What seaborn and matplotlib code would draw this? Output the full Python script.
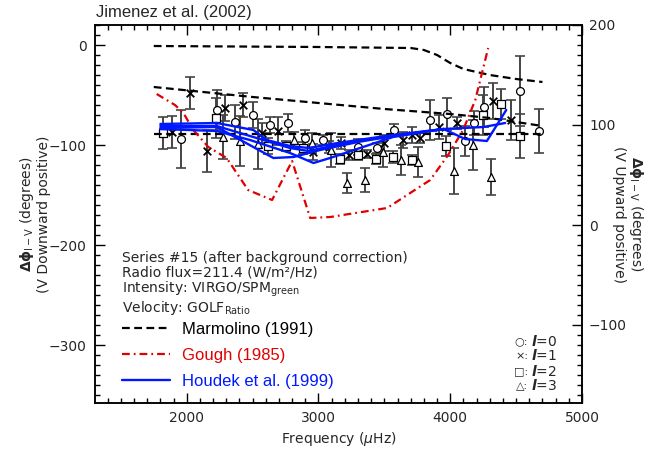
import numpy as np
import pandas as pd
import matplotlib
matplotlib.use("Agg")
import matplotlib.pyplot as plt
import seaborn as sns
from matplotlib.ticker import MultipleLocator
from matplotlib.lines import Line2D

# ---------------- data ----------------
# Marmolino (1991) model curves
marm_a_freq = [1750, 3000, 3700, 3800, 3900, 4000, 4100, 4300, 4500, 4700]
marm_a_val = [-1, -2, -3, -5, -10, -18, -24, -30, -34, -37]
marm_b_freq = [1750, 2500, 3000, 3500, 4000, 4300, 4700]
marm_b_val = [-42, -52, -58, -64, -69, -73, -81]
marm_c_freq = [1750, 4700]
marm_c_val = [-89, -89]

# Gough (1985)
gough_freq = [1772, 1911, 1975, 2050, 2164, 2303, 2466, 2648, 2800, 2937,
              3090, 3521, 3848, 3984, 4098, 4190, 4288]
gough_val = [-49, -60, -68, -85, -102, -113, -145, -155, -116, -173,
             -172, -163, -135, -110, -85, -55, -3]

# Houdek et al. (1999)
houdek_a_freq = [1800, 2228, 2506, 2607, 2784, 2925, 3100, 3300, 3566, 3949, 4253, 4417]
houdek_a_val = [-79, -78, -85, -95, -101, -103, -99, -95, -90, -84, -82, -78]
houdek_b_freq = [1800, 2228, 2480, 2784, 2925, 3100, 3300, 3566, 3949, 4113, 4278, 4425]
houdek_b_val = [-81, -81, -91, -103, -106, -101, -96, -91, -84, -94, -96, -65]
houdek_c_freq = [1800, 2228, 2658, 2810, 3012, 3300, 3566, 3949]
houdek_c_val = [-83, -82, -113, -112, -105, -97, -91, -84]
houdek_d_freq = [1800, 2228, 2480, 2784, 2962, 3088, 3316, 3566, 3949]
houdek_d_val = [-84, -86, -95, -108, -118, -113, -103, -92, -84]

# Observed phase differences (l = 0..3)
l0_freq = [1957, 2230, 2367, 2500, 2630, 2765, 2897, 3032, 3303, 3443, 3574, 3848, 3979, 4113, 4182, 4255, 4531, 4670]
l0_val = [-94, -65, -77, -70, -80, -78, -93, -95, -102, -103, -85, -75, -69, -96, -78, -62, -46, -86]
l0_err = [29, 20, 17, 13, 8, 9, 8, 5, 8, 5, 6, 20, 16, 15, 12, 20, 35, 22]

l1_freq = [1886, 2025, 2155, 2291, 2425, 2569, 2691, 2960, 3081, 3170, 3235, 3367, 3498, 3640, 3708, 3771, 3911, 4050, 4321, 4463]
l1_val = [-87, -48, -106, -63, -60, -88, -86, -107, -102, -98, -110, -109, -98, -95, -90, -93, -82, -78, -56, -75]
l1_err = [16, 16, 21, 13, 12, 10, 14, 8, 6, 6, 5, 4, 8, 8, 8, 5, 12, 6, 18, 20]

l2_freq = [1818, 2223, 2620, 2754, 2886, 3164, 3298, 3435, 3569, 3708, 3969, 4247, 4387, 4526]
l2_val = [-88, -73, -101, -101, -103, -114, -110, -114, -112, -115, -101, -70, -59, -91]
l2_err = [16, 20, 8, 5, 6, 5, 5, 5, 6, 5, 10, 20, 15, 22]

l3_freq = [2278, 2405, 2544, 2815, 2954, 3094, 3219, 3354, 3493, 3627, 3758, 4030, 4171, 4311]
l3_val = [-92, -96, -99, -95, -98, -105, -138, -135, -107, -115, -117, -126, -100, -132]
l3_err = [22, 25, 25, 8, 10, 17, 10, 12, 15, 15, 15, 23, 25, 18]

# ---------------- figure ----------------
sns.set_style("ticks")
plt.rcParams['font.family'] = ['DejaVu Sans']

W, H = 656, 449
fig = plt.figure(figsize=(W / 100, H / 100), dpi=100)
ax = fig.add_axes([95 / W, 1 - 403 / H, (582 - 95) / W, (403 - 25) / H])

def curves(pairs):
    rows = []
    for name, fr, vv in pairs:
        for f, v in zip(fr, vv):
            rows.append((name, f, v))
    return pd.DataFrame(rows, columns=["curve", "freq", "val"])

marm = curves([("a", marm_a_freq, marm_a_val), ("b", marm_b_freq, marm_b_val),
               ("c", marm_c_freq, marm_c_val)])
houd = curves([("a", houdek_a_freq, houdek_a_val), ("b", houdek_b_freq, houdek_b_val),
               ("c", houdek_c_freq, houdek_c_val), ("d", houdek_d_freq, houdek_d_val)])
goug = curves([("a", gough_freq, gough_val)])

# error bars + markers
obs = [(l0_freq, l0_val, l0_err, 'o'), (l1_freq, l1_val, l1_err, 'x'),
       (l2_freq, l2_val, l2_err, 's'), (l3_freq, l3_val, l3_err, '^')]
for fr, vv, ee, mk in obs:
    ax.errorbar(fr, vv, yerr=ee, fmt='none', ecolor='#444444', elinewidth=1.4,
                capsize=3.5, capthick=1.2, zorder=2)
for fr, vv, ee, mk in obs:
    df = pd.DataFrame({"freq": fr, "val": vv})
    if mk == 'x':
        sns.scatterplot(data=df, x="freq", y="val", marker='x', s=30, color='black',
                        linewidth=1.3, ax=ax, zorder=3, legend=False)
    else:
        sns.scatterplot(data=df, x="freq", y="val", marker=mk, s=32, facecolor='white',
                        edgecolor='black', linewidth=0.9, ax=ax, zorder=3, legend=False)

# model curves
sns.lineplot(data=marm, x="freq", y="val", units="curve", estimator=None, sort=False,
             color='black', linewidth=1.6, ax=ax, zorder=4, legend=False)
for ln in ax.lines[-3:]:
    ln.set_dashes((3.5, 2.0))
nb = len(ax.lines)
sns.lineplot(data=goug, x="freq", y="val", units="curve", estimator=None, sort=False,
             color='#e00000', linewidth=1.6, ax=ax, zorder=4, legend=False)
for ln in ax.lines[nb:]:
    ln.set_dashes((3.5, 1.8, 0.8, 1.8))
sns.lineplot(data=houd, x="freq", y="val", units="curve", estimator=None, sort=False,
             color='#0018ff', linewidth=1.7, ax=ax, zorder=5, legend=False)

ax.set_xlim(1304, 5000)
ax.set_ylim(-358, 20)
ax.set_xticks([2000, 3000, 4000, 5000])
ax.set_yticks([0, -100, -200, -300])
ax.xaxis.set_minor_locator(MultipleLocator(100))
ax.yaxis.set_minor_locator(MultipleLocator(10))
ax.tick_params(which='both', direction='in', top=True, right=False, labelsize=10,
               color='black', width=1.0)
ax.tick_params(which='major', length=7, pad=6)
ax.tick_params(which='minor', length=3.5)
for s in ax.spines.values():
    s.set_linewidth(1.1)
    s.set_color('black')
ax.set_xlabel(r"Frequency ($\mu$Hz)", fontsize=10, labelpad=3)
ax.set_ylabel(r"$\mathbf{\Delta\phi}_{\mathrm{I-V}}$ (degrees)" + "\n(V Downward positive)",
              fontsize=10, labelpad=-2, linespacing=1.1)

ax2 = ax.twinx()
ax2.set_ylim(-178, 200)
ax2.set_yticks([200, 100, 0, -100])
ax2.yaxis.set_minor_locator(MultipleLocator(10))
ax2.tick_params(which='both', direction='in', labelsize=10, color='black', width=1.0)
ax2.tick_params(which='major', length=7, pad=5)
ax2.tick_params(which='minor', length=3.5)
for s in ax2.spines.values():
    s.set_linewidth(1.1)
    s.set_color('black')
ax2.set_ylabel(r"$\mathbf{\Delta\phi}_{\mathrm{I-V}}$ (degrees)" + "\n(V Upward positive)",
               fontsize=10, rotation=270, labelpad=13, linespacing=1.1)

# title
fig.text(96 / W, 1 - 12 / H, "Jimenez et al. (2002)", fontsize=12,
         family='Liberation Sans', va='center', ha='left')

# annotation block
ann = ["Series #15 (after background correction)",
       "Radio flux=211.4 (W/m²/Hz)",
       r"Intensity: VIRGO/SPM$_{\rm green}$",
       r"Velocity: GOLF$_{\rm Ratio}$"]
fig.text(122 / W, 1 - 251 / H, "\n".join(ann[:3]), fontsize=10, va='top', ha='left',
         linespacing=1.03)
fig.text(122 / W, 1 - 308 / H, ann[3], fontsize=10, va='center', ha='left')

# legend
handles = [Line2D([], [], color='black', lw=1.6, dashes=(3.5, 2.0)),
           Line2D([], [], color='#e00000', lw=1.6, dashes=(3.5, 1.8, 0.8, 1.8)),
           Line2D([], [], color='#0018ff', lw=1.7)]
labels = ["Marmolino (1991)", "Gough (1985)", "Houdek et al. (1999)"]
leg = ax.legend(handles, labels, loc='upper left', bbox_to_anchor=(122 / W, 1 - 322 / H),
                bbox_transform=fig.transFigure, frameon=False, borderpad=0, borderaxespad=0,
                handlelength=2.9, handletextpad=0.7, labelspacing=0.66,
                prop={'family': 'Liberation Sans', 'size': 12})
for txt, c in zip(leg.get_texts(), ['black', '#e00000', '#0018ff']):
    txt.set_color(c)

# degree legend
for sym, lab, yy in zip(["○", "×", "□", "△"], ["0", "1", "2", "3"], [341, 356, 371, 386]):
    fig.text(528 / W, 1 - yy / H, sym + ":", fontsize=8, va='center', ha='right')
    fig.text(531 / W, 1 - yy / H, r"$\mathbfit{l}$=" + lab, fontsize=10, va='center', ha='left')

fig.savefig("out.png", dpi=100)
